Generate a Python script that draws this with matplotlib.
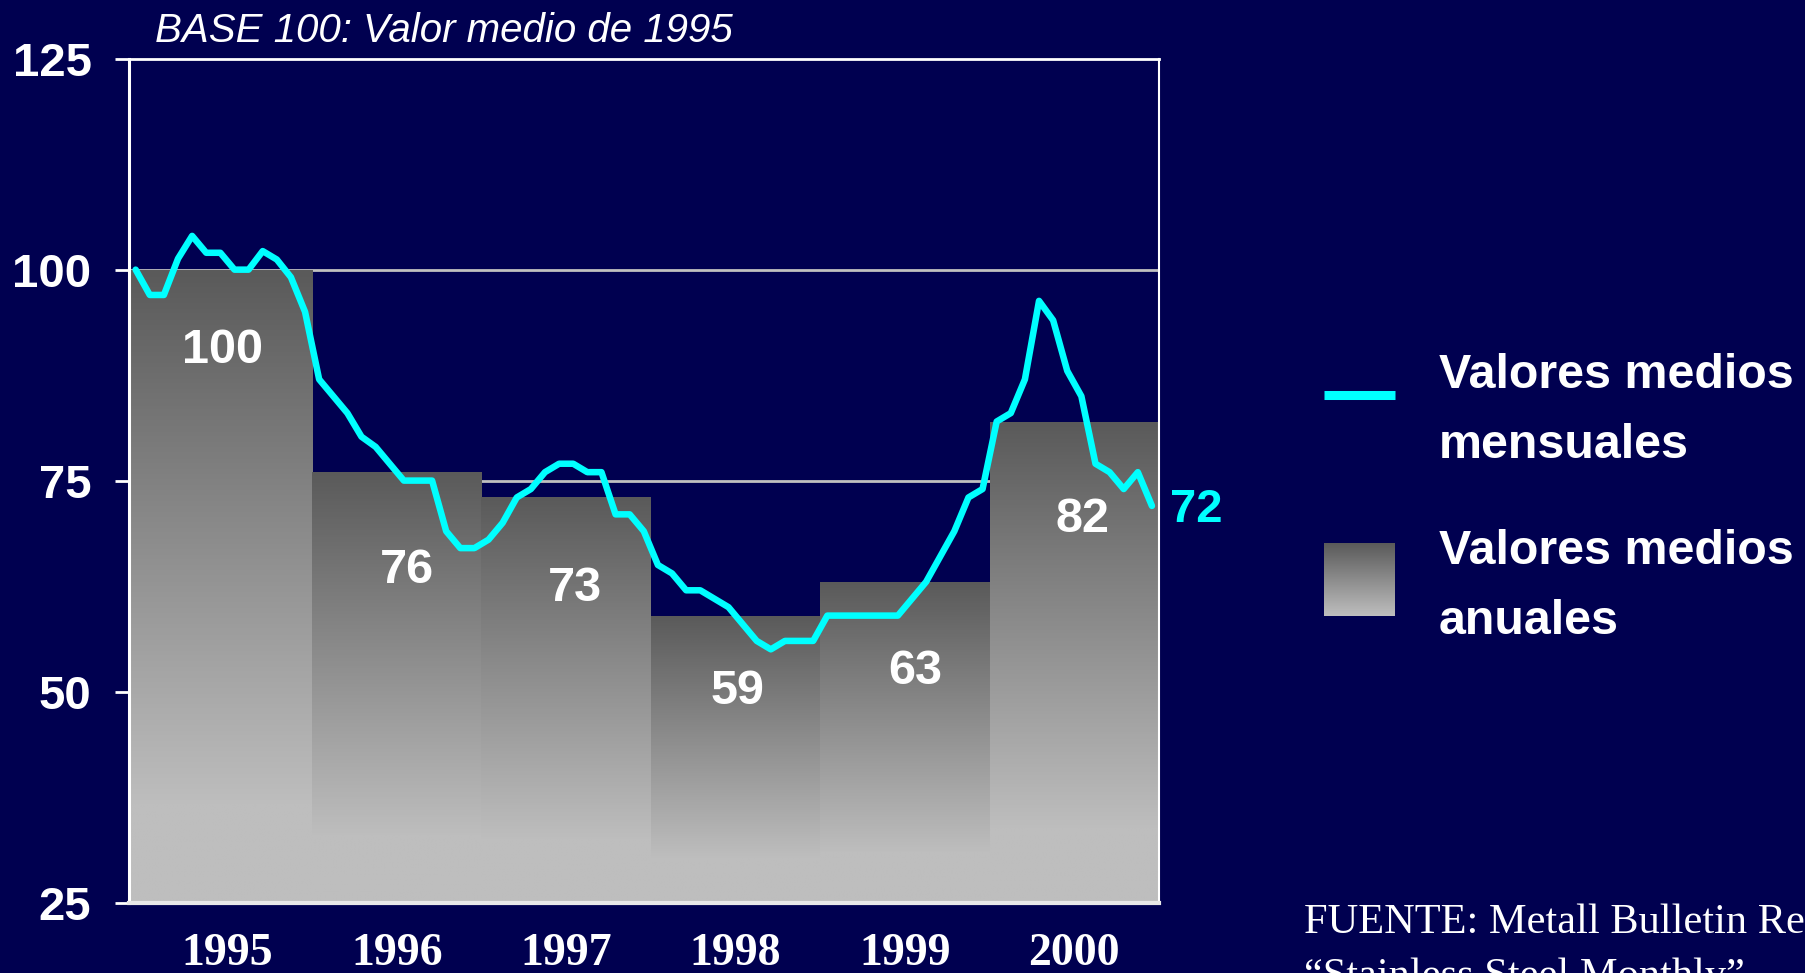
import matplotlib
matplotlib.use("Agg")
import matplotlib.pyplot as plt
import numpy as np
from matplotlib.colors import LinearSegmentedColormap
from matplotlib.lines import Line2D

# monthly index (base 100 = 1995 average), Jan 1995 .. Jan 2001
monthly = [100, 97, 97, 101.3, 104, 102, 102, 100, 100, 102.2, 101.2, 99.1,
           95, 87, 85, 83, 80.2, 79, 77, 75, 75, 75, 69, 67,
           67, 68, 70, 73, 74, 76, 77, 77, 76, 76, 71, 71,
           69, 65, 64, 62, 62, 61, 60, 58, 56, 55, 56, 56,
           56, 59, 59, 59, 59, 59, 59, 61, 63, 66, 69, 73,
           74, 82, 83, 87, 96.3, 94, 88, 85, 77, 76, 74, 76,
           72]
years = ["1995", "1996", "1997", "1998", "1999", "2000"]
annual = [100, 76, 73, 59, 63, 82]
yticks = [25, 50, 75, 100, 125]

# label placement tweaks (not data)
label_dx = [-0.03, 0.06, 0.05, 0.01, 0.06, 0.05]
label_drop = [9.6, 11.6, 10.8, 9.0, 10.6, 11.6]

BG = "#000050"
CYAN = "#00ffff"
SANS = "Liberation Sans"
SERIF = "Liberation Serif"

W, H = 1805, 973
fig = plt.figure(figsize=(W / 100, H / 100), dpi=100, facecolor=BG)
ax = fig.add_axes([129 / W, 1 - 902.5 / H, (1159 - 129) / W, (902.5 - 58.7) / H])
ax.set_facecolor(BG)

xmin, xmax = -0.081, 6.0
ymin, ymax = 25, 125

# gridlines behind the bars
for v in [75, 100]:
    ax.axhline(v, color="#c0c0c0", lw=2, zorder=1)

# annual bars with vertical grey gradient
cmap = LinearSegmentedColormap.from_list("g", ["#5a5a5a", "#bebebe"])
t = np.clip(np.linspace(0, 1, 256) / 0.85, 0, 1).reshape(-1, 1)
lefts = [xmin if i == 0 else i for i in range(len(annual))]
widths = [i + 1 - l for i, l in enumerate(lefts)]
bars = ax.bar(lefts, [a - ymin for a in annual], width=widths, bottom=ymin,
              align="edge", color="#5a5a5a", lw=0, zorder=2)
for rect, a in zip(bars, annual):
    x0, x1 = rect.get_x(), rect.get_x() + rect.get_width()
    im = ax.imshow(t, cmap=cmap, vmin=0, vmax=1, aspect="auto",
                   extent=[x0, x1, ymin, a], zorder=2.5, interpolation="bilinear")
    im.set_clip_path(rect)

for i, a in enumerate(annual):
    ax.text(i + 0.5 + label_dx[i], a - label_drop[i], str(a), color="white",
            fontsize=35, fontweight="bold", family=SANS,
            ha="center", va="center", zorder=4)

# monthly line
mx = [(m - 0.5) / 12 for m in range(len(monthly))]
ax.plot(mx, monthly, color=CYAN, lw=4.7, zorder=3, solid_joinstyle="round",
        solid_capstyle="round", clip_on=False)
ax.annotate(f"{monthly[-1]:.0f}", (mx[-1], monthly[-1]), xytext=(13, -3),
            textcoords="offset points", color=CYAN, fontsize=34,
            fontweight="bold", family=SANS, ha="left", va="center",
            annotation_clip=False)

ax.set_xlim(xmin, xmax)
ax.set_ylim(ymin, ymax)

ax.set_yticks(yticks)
ax.set_yticklabels([str(v) for v in yticks])
ax.tick_params(axis="y", colors="white", length=10, width=2, pad=17,
               labelsize=34, direction="out")
for lab in ax.get_yticklabels():
    lab.set_fontfamily(SANS)
    lab.set_fontweight("bold")

ax.set_xticks([i + 0.5 for i in range(len(years))])
ax.set_xticklabels(years)
ax.tick_params(axis="x", colors="white", length=0, pad=22, labelsize=33)
for lab in ax.get_xticklabels():
    lab.set_fontfamily(SERIF)
    lab.set_fontweight("bold")

for side, lw in [("left", 2.2), ("top", 2), ("bottom", 3), ("right", 1.5)]:
    ax.spines[side].set_color("white")
    ax.spines[side].set_linewidth(lw)
    ax.spines[side].set_zorder(5)
ax.spines["bottom"].set_color("#e8e8e8")

# title
fig.text(155 / W, 1 - 41.5 / H, "BASE 100: Valor medio de 1995", color="white",
         fontsize=29, style="italic", family=SANS, va="baseline", ha="left")

# legend, drawn by hand
fig.add_artist(Line2D([1324 / W, 1395 / W], [1 - 395 / H, 1 - 395 / H],
                      color=CYAN, lw=6.5, solid_capstyle="butt"))
lax = fig.add_axes([1324 / W, 1 - 616 / H, 71 / W, 73 / H])
lax.imshow(np.linspace(0, 1, 256).reshape(-1, 1), cmap=cmap, aspect="auto",
           interpolation="bilinear")
lax.axis("off")

for txt, yc in [("Valores medios", 376), ("mensuales", 446),
                ("Valores medios", 551), ("anuales", 621)]:
    fig.text(1439 / W, 1 - yc / H, txt, color="white", fontsize=34.8,
             fontweight="bold", family=SANS, ha="left", va="center")

# source
fig.text(1304 / W, 1 - 933 / H, "FUENTE: Metall Bulletin Research",
         color="white", fontsize=30.5, family=SERIF, va="baseline", ha="left")
fig.text(1304 / W, 1 - 987 / H, "\u201cStainless Steel Monthly\u201d",
         color="white", fontsize=30.5, family=SERIF, va="baseline", ha="left")

fig.savefig("out.png", dpi=100, facecolor=BG)
